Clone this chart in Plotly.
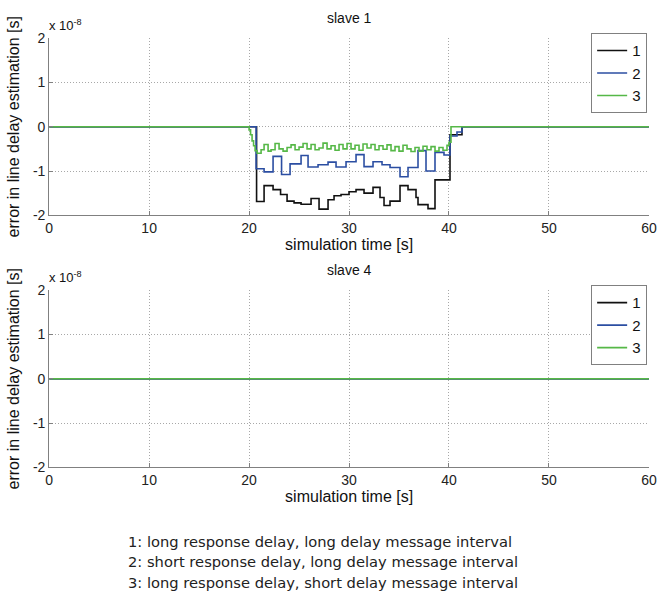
import plotly.graph_objects as go

# ---------------- data (values in units of 1e-8 s) ----------------
# slave 1, series 1: long response delay, long delay message interval
s1_t1 = [0, 20.75, 21.5, 22.4, 23.15, 23.8, 24.5, 25.2, 26.2, 27.0, 27.9, 28.5, 29.2,
         30.0, 30.7, 31.5, 32.4, 33.1, 33.5, 34.1, 35.1, 35.9, 36.7, 36.9, 37.9, 38.6,
         40.1, 41.3, 60]
s1_v1 = [0, -1.69, -1.33, -1.42, -1.53, -1.68, -1.72, -1.75, -1.62, -1.86, -1.65, -1.56,
         -1.53, -1.47, -1.42, -1.50, -1.37, -1.60, -1.78, -1.68, -1.33, -1.42, -1.60, -1.76,
         -1.85, -1.20, -0.18, 0, 0]

# slave 1, series 2: short response delay, long delay message interval
s1_t2 = [0, 20.7, 21.5, 22.4, 23.25, 24.1, 25.2, 25.9, 26.9, 27.9, 28.7, 29.7, 30.7,
         31.5, 32.4, 33.3, 34.1, 35.1, 35.9, 36.9, 37.7, 38.6, 39.5, 40.1, 40.8, 41.3, 60]
s1_v2 = [0, -0.95, -1.02, -0.67, -1.08, -0.84, -0.65, -0.91, -0.86, -0.80, -0.91, -0.79,
         -0.63, -0.90, -0.79, -0.86, -0.92, -1.13, -0.92, -0.54, -1.00, -0.58, -0.64,
         -0.21, -0.12, 0, 0]

# slave 1, series 3: long response delay, short delay message interval
s1_t3 = [0, 20.0, 20.15, 20.3, 20.45, 20.6, 20.8, 21.2, 21.5, 21.9, 22.2, 22.6, 23.0,
         23.4, 23.8, 24.2, 24.6, 25.0, 25.4, 25.8, 26.2, 26.6, 27.0, 27.4, 27.8, 28.2,
         28.6, 29.0, 29.4, 29.8, 30.2, 30.6, 31.0, 31.4, 31.8, 32.2, 32.6, 33.0, 33.4,
         33.8, 34.2, 34.6, 35.0, 35.4, 35.8, 36.2, 36.6, 37.0, 37.4, 37.8, 38.2, 38.6,
         39.0, 39.4, 39.8, 40.0, 40.2, 60]
s1_v3 = [0, -0.07, -0.18, -0.32, -0.43, -0.54, -0.60, -0.52, -0.40, -0.55, -0.52, -0.38,
         -0.50, -0.55, -0.47, -0.41, -0.52, -0.46, -0.38, -0.50, -0.40, -0.52, -0.48,
         -0.37, -0.50, -0.43, -0.53, -0.40, -0.50, -0.38, -0.50, -0.42, -0.53, -0.39,
         -0.48, -0.40, -0.52, -0.43, -0.51, -0.41, -0.54, -0.45, -0.55, -0.42, -0.50,
         -0.56, -0.47, -0.55, -0.44, -0.52, -0.45, -0.55, -0.47, -0.53, -0.42, -0.35,
         0, 0]

# slave 4: all three series stay at zero
s4_t = [0, 60]
s4_v1 = [0, 0]
s4_v2 = [0, 0]
s4_v3 = [0, 0]

series_names = ["1", "2", "3"]
series_colors = ["#111111", "#2b4ea2", "#56b847"]
x_ticks = [0, 10, 20, 30, 40, 50, 60]
y_ticks = [2, 1, 0, -1, -2]
y_ticktext = ["2", "1", "0", "-1", "-2"]
titles = ["slave 1", "slave 4"]
x_title = "simulation time [s]"
y_title = "error in line delay estimation [s]"
notes = ["1: long response delay, long delay message interval",
         "2: short response delay, long delay message interval",
         "3: long response delay, short delay message interval"]

# ---------------- figure ----------------
W, H = 663, 596
fig = go.Figure()

top = [(s1_t1, s1_v1), (s1_t2, s1_v2), (s1_t3, s1_v3)]
bot = [(s4_t, s4_v1), (s4_t, s4_v2), (s4_t, s4_v3)]
for i, (t, v) in enumerate(top):
    fig.add_trace(go.Scatter(x=t, y=v, mode="lines", line_shape="hv",
                             line=dict(color=series_colors[i], width=1.6),
                             name=series_names[i], xaxis="x", yaxis="y",
                             legend="legend"))
for i, (t, v) in enumerate(bot):
    fig.add_trace(go.Scatter(x=t, y=v, mode="lines", line_shape="hv",
                             line=dict(color=series_colors[i], width=1.6),
                             name=series_names[i], xaxis="x2", yaxis="y2",
                             legend="legend2"))

def px2x(p):
    return p / W

def px2y(p):
    return 1 - p / H

xdom = [px2x(46), px2x(657)]
ydom1 = [px2y(213), px2y(31)]
ydom2 = [px2y(472), px2y(290)]

tickfont = dict(family="Liberation Sans, Arial, sans-serif", size=14, color="#222222")
titlefont = dict(family="Liberation Sans, Arial, sans-serif", size=16, color="#111111")
GRID = dict(showgrid=True, gridcolor="#a8a8a8", griddash="1px,2px", gridwidth=1)

def xax(anchor):
    return dict(domain=xdom, range=[0, 60.02], tickvals=x_ticks, anchor=anchor,
                showline=True, linecolor="#808080", linewidth=1,
                ticks="inside", ticklen=4, tickcolor="#808080",
                zeroline=False, tickfont=tickfont, ticklabeloverflow="allow",
                title=dict(text=x_title, font=titlefont, standoff=3), **GRID)

def yax(dom, anchor):
    return dict(domain=dom, range=[-2, 2], tickvals=y_ticks, ticktext=y_ticktext,
                anchor=anchor,
                showline=True, linecolor="#808080", linewidth=1,
                ticks="inside", ticklen=4, tickcolor="#808080",
                zeroline=False, tickfont=tickfont, ticklabeloverflow="allow",
                title=dict(text=y_title, font=titlefont, standoff=9), **GRID)

legend_common = dict(bgcolor="white", bordercolor="#808080", borderwidth=1,
                     font=dict(family="Liberation Sans, Arial, sans-serif", size=15,
                               color="#111111"),
                     xanchor="right", yanchor="top", itemwidth=30,
                     tracegroupgap=0)

fig.update_layout(
    width=W, height=H, margin=dict(l=0, r=0, t=0, b=0),
    paper_bgcolor="white", plot_bgcolor="white",
    xaxis=xax("y"), yaxis=yax(ydom1, "x"),
    xaxis2=xax("y2"), yaxis2=yax(ydom2, "x2"),
    legend=dict(x=px2x(655), y=px2y(26), **legend_common),
    legend2=dict(x=px2x(655), y=px2y(285), **legend_common),
)

ann = []
for ttl, ytop in zip(titles, [31, 290]):
    ann.append(dict(text=ttl, x=(xdom[0] + xdom[1]) / 2, y=px2y(ytop - 21),
                    xref="paper", yref="paper", xanchor="center", yanchor="middle",
                    showarrow=False,
                    font=dict(family="Liberation Sans, Arial, sans-serif", size=14,
                              color="#111111")))
    ann.append(dict(text="x 10<sup>-8</sup>", x=px2x(44), y=px2y(ytop - 3),
                    xref="paper", yref="paper", xanchor="left", yanchor="bottom",
                    showarrow=False,
                    font=dict(family="Liberation Sans, Arial, sans-serif", size=13,
                              color="#111111")))
for k, line in enumerate(notes):
    ann.append(dict(text=line, x=px2x(124), y=px2y(548 + 21 * k),
                    xref="paper", yref="paper", xanchor="left", yanchor="middle",
                    showarrow=False,
                    font=dict(family="DejaVu Sans, sans-serif", size=14.7,
                              color="#222222")))
fig.update_layout(annotations=ann)

fig.write_html("out.html")
